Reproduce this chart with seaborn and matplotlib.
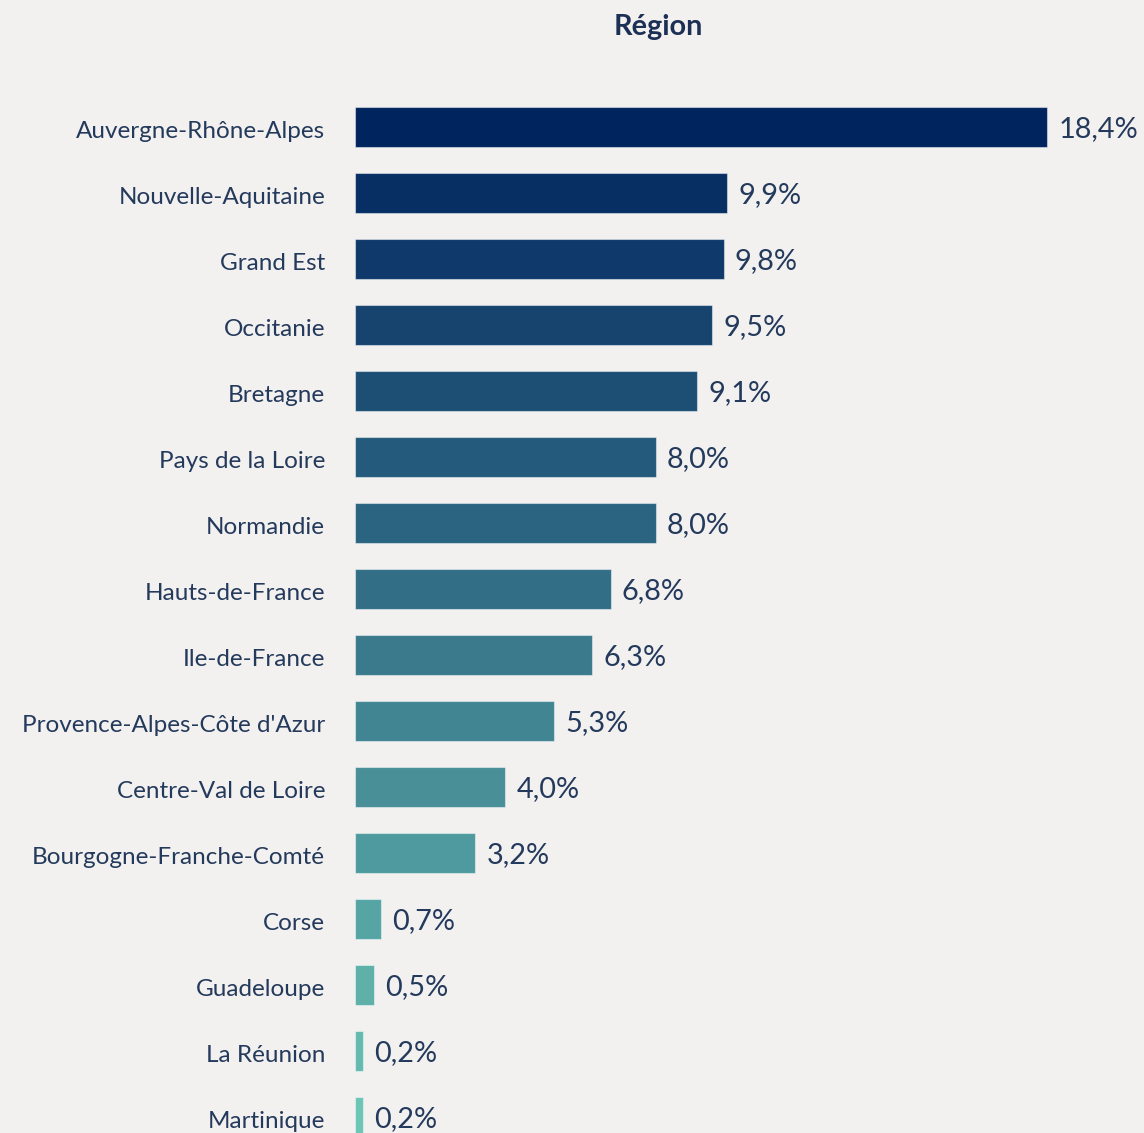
import matplotlib
matplotlib.use("Agg")
import matplotlib.pyplot as plt
import seaborn as sns
import pandas as pd
from matplotlib.transforms import ScaledTranslation

regions = ["Auvergne-Rhône-Alpes", "Nouvelle-Aquitaine", "Grand Est", "Occitanie",
           "Bretagne", "Pays de la Loire", "Normandie", "Hauts-de-France",
           "Ile-de-France", "Provence-Alpes-Côte d'Azur", "Centre-Val de Loire",
           "Bourgogne-Franche-Comté", "Corse", "Guadeloupe", "La Réunion", "Martinique"]
values = [18.4, 9.9, 9.8, 9.5, 9.1, 8.0, 8.0, 6.8, 6.3, 5.3, 4.0, 3.2, 0.7, 0.5, 0.2, 0.2]
labels = ["18,4%", "9,9%", "9,8%", "9,5%", "9,1%", "8,0%", "8,0%", "6,8%", "6,3%",
          "5,3%", "4,0%", "3,2%", "0,7%", "0,5%", "0,2%", "0,2%"]

BG = "#f3f1ef"
TXT = "#243a5c"
palette = sns.blend_palette(["#00245e", "#6cc5b5"], n_colors=len(regions))

sns.set_theme(style="white")
plt.rcParams["font.family"] = ["Lato", "DejaVu Sans"]

W, H = 1144, 1133
fig = plt.figure(figsize=(W / 100, H / 100), dpi=100, facecolor=BG)
ax_left, ax_top = 355, 80
ax = fig.add_axes([ax_left / W, 0, (W - ax_left) / W, (H - ax_top) / H])
ax.set_facecolor(BG)

df = pd.DataFrame({"region": regions, "value": values})
sns.barplot(data=df, x="value", y="region", hue="region", palette=palette,
            saturation=1, legend=False, width=0.62, ax=ax, orient="h",
            edgecolor=(1, 1, 1, 0.45), linewidth=0.8)

px_per_unit = 692 / 18.4
ax.set_xlim(0, (W - ax_left) / px_per_unit)
spacing = 66
ax.set_ylim((H - 127) / spacing, (ax_top - 127) / spacing)

for i, (v, lab) in enumerate(zip(values, labels)):
    ax.annotate(lab, xy=(v, i), xytext=(8, -1.5), textcoords="offset points",
                ha="left", va="center", fontsize=20.8, color=TXT)

ax.set_xlabel("")
ax.set_ylabel("")
ax.set_xticks([])
ax.tick_params(axis="y", length=0, pad=21.5, labelsize=17.5, labelcolor=TXT)
offset = ScaledTranslation(0, -2.5 / 100, fig.dpi_scale_trans)
for t in ax.get_yticklabels():
    t.set_transform(t.get_transform() + offset)
for s in ax.spines.values():
    s.set_visible(False)

fig.text(658 / W, 1 - 27 / H, "Région", ha="center", va="center",
         fontsize=20.7, fontweight="bold", color="#1c2f55")

fig.savefig("out.png", dpi=100, facecolor=BG)
